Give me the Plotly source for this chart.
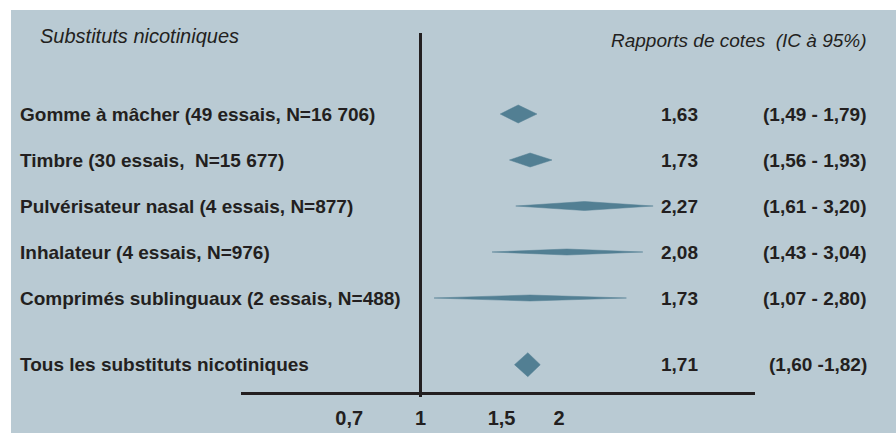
import math
import plotly.graph_objects as go

# ---- data -------------------------------------------------------------
labels = [
    "Gomme à mâcher (49 essais, N=16 706)",
    "Timbre (30 essais, \u00a0N=15 677)",
    "Pulvérisateur nasal (4 essais, N=877)",
    "Inhalateur (4 essais, N=976)",
    "Comprimés sublinguaux (2 essais, N=488)",
    "Tous les substituts nicotiniques",
]
odds_ratio = [1.63, 1.73, 2.27, 2.08, 1.73, 1.71]
ci_low = [1.49, 1.56, 1.61, 1.43, 1.07, 1.60]
ci_high = [1.79, 1.93, 3.20, 3.04, 2.80, 1.82]
ci_sep = [" - ", " - ", " - ", " - ", " - ", " -"]
tick_values = [0.7, 1, 1.5, 2]
tick_labels = ["0,7", "1", "1,5", "2"]

# ---- styling ----------------------------------------------------------
W, H = 896, 433
PANEL = "#B9CAD3"
DIAMOND = "#527F93"
INK = "#231F20"
FONT = "Liberation Sans"
FS = 19

ROW_PX = 46          # vertical spacing between rows
ROW0_PX = 114        # pixel centre of the first row
row_pos = [0, 1, 2, 3, 4, 5.45]               # pooled row sits after a gap
half_height_px = [9, 7, 4.5, 3, 3, 12]        # diamond half-heights


def prow(py):
    """pixel y -> row coordinate"""
    return (py - ROW0_PX) / ROW_PX


def fmt(v):
    return f"{v:.2f}".replace(".", ",")


# log scale: OR=1 sits on the vertical line at x=420.5 px
X_LEFT, X_RIGHT = 241, 755
X_ONE = 420.5
PX_PER_LN = 200.0
x_range = [
    (X_LEFT - X_ONE) / PX_PER_LN / math.log(10),
    (X_RIGHT - X_ONE) / PX_PER_LN / math.log(10),
]

fig = go.Figure()

# line of no effect
fig.add_trace(go.Scatter(
    x=[1, 1], y=[prow(33), prow(397)], mode="lines",
    line=dict(color=INK, width=3), hoverinfo="skip", showlegend=False,
))

# diamonds
for r, orv, lo, hi, hh in zip(row_pos, odds_ratio, ci_low, ci_high, half_height_px):
    h = hh / ROW_PX
    fig.add_trace(go.Scatter(
        x=[lo, orv, hi, orv, lo],
        y=[r, r - h, r, r + h, r],
        mode="lines", fill="toself", fillcolor=DIAMOND,
        line=dict(color=DIAMOND, width=0.5),
        hoverinfo="skip", showlegend=False,
    ))

annotations = []
bold = dict(family=FONT, size=FS, color=INK, weight="bold")
for r, lab, orv, lo, hi, sep in zip(row_pos, labels, odds_ratio, ci_low, ci_high, ci_sep):
    annotations.append(dict(x=18 / W, y=r, xref="paper", yref="y", text=lab,
                            xanchor="left", yanchor="middle", showarrow=False, font=bold))
    annotations.append(dict(x=700 / W, y=r, xref="paper", yref="y", text=fmt(orv),
                            xanchor="right", yanchor="middle", showarrow=False, font=bold))
    annotations.append(dict(x=869 / W, y=r, xref="paper", yref="y",
                            text=f"({fmt(lo)}{sep}{fmt(hi)})",
                            xanchor="right", yanchor="middle", showarrow=False, font=bold))

italic = dict(family=FONT, size=FS, color=INK, style="italic")
annotations.append(dict(x=38 / W, y=prow(36), xref="paper", yref="y",
                        text="Substituts nicotiniques", xanchor="left", yanchor="middle",
                        showarrow=False, font=dict(italic, size=20)))
annotations.append(dict(x=869 / W, y=prow(40), xref="paper", yref="y",
                        text="Rapports de cotes \u00a0(IC à 95%)", xanchor="right",
                        yanchor="middle", showarrow=False, font=italic))

fig.update_layout(
    width=W, height=H,
    margin=dict(l=0, r=0, t=0, b=0),
    paper_bgcolor="white",
    plot_bgcolor="rgba(0,0,0,0)",
    annotations=annotations,
    shapes=[dict(type="rect", xref="paper", yref="paper",
                 x0=11 / W, x1=1, y0=0, y1=(H - 10) / H,
                 fillcolor=PANEL, line=dict(width=0), layer="below")],
    xaxis=dict(
        type="log", range=x_range, domain=[X_LEFT / W, X_RIGHT / W],
        anchor="free", position=(H - 392.7) / H,
        showline=True, linecolor=INK, linewidth=3,
        showgrid=False, zeroline=False,
        tickvals=tick_values, ticktext=tick_labels, ticks="",
        ticklabelstandoff=6,
        tickfont=dict(family=FONT, size=20, color=INK, weight="bold"),
    ),
    yaxis=dict(
        range=[prow(H), prow(0)], domain=[0, 1],
        visible=False, showgrid=False, zeroline=False,
    ),
)

fig.write_html("out.html")
